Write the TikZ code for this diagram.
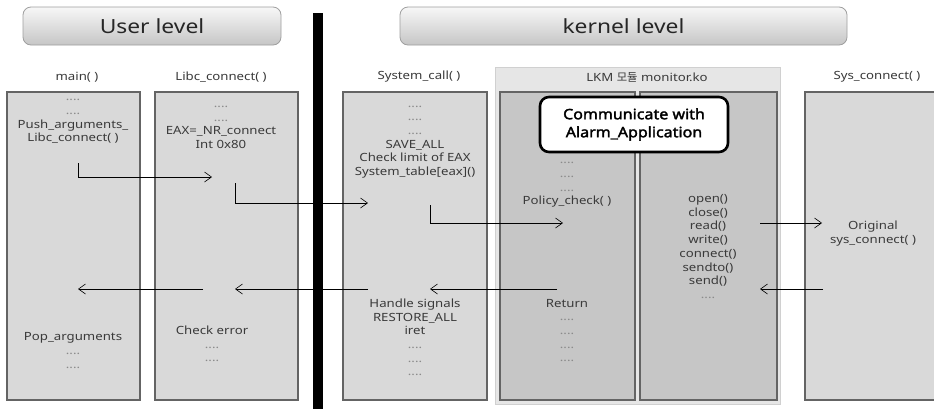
\documentclass[tikz,border=0pt]{standalone}
\usepackage{fontspec}
\setmainfont{Noto Sans}[FakeStretch=1.17]
\newfontfamily\alarmfont{Noto Sans}[FakeStretch=1.12, FakeBold=2.2]
\newfontfamily\kofont{Noto Sans CJK KR}
\usetikzlibrary{arrows.meta}

\definecolor{boxfill}{HTML}{D9D9D9}
\definecolor{boxline}{HTML}{646464}
\definecolor{lkmfill}{HTML}{C6C6C6}
\definecolor{lkmouter}{HTML}{E6E6E6}
\definecolor{lkmedge}{HTML}{D0D0D0}
\definecolor{txtgray}{HTML}{3A3A3A}
\definecolor{dotgray}{HTML}{8A8A8A}

\newcommand{\dotrow}{\textcolor{dotgray}{....}}

\begin{document}
\begin{tikzpicture}[x=1pt, y=-1pt,
    % Estilos
    levelbox/.style={rectangle, rounded corners=8pt, draw=gray!75, thick, top color=white!97!black, bottom color=gray!45, minimum width=258pt, minimum height=38pt, font=\fontsize{19.5}{22}\selectfont, text=black!85},
    procbox/.style={rectangle, draw=boxline, line width=2.6pt, fill=boxfill, minimum height=308pt},
    lkmbox/.style={rectangle, draw=boxline, line width=2.6pt, fill=lkmfill, minimum height=308pt},
    callout/.style={rectangle, rounded corners=9pt, draw=black, line width=2.6pt, fill=white, minimum width=188pt, minimum height=55pt, align=center, font=\alarmfont\fontsize{14.3}{18}\selectfont},
    texto/.style={font=\fontsize{11.3}{13.7}\selectfont, text=txtgray, align=center, inner sep=0pt},
    arrow/.style={-{Straight Barb[length=7pt, width=10pt]}, semithick, draw=black}
]

\clip (0,0) rectangle (934,408);
\fill[white] (0,0) rectangle (934,408);

% --- CABECERAS ---
\node[levelbox] (user) at (152,26) {User level};
\node[levelbox, minimum width=447pt] (kernel) at (623.5,26) {kernel level};

% separador usuario / kernel
\fill[black] (313,13) rectangle (323,410);

% --- NOMBRES DE FUNCIONES ---
\node[texto] (mainlbl) at (77,77) {main( )};
\node[texto] (libclbl) at (221,77) {Libc\_connect( )};
\node[texto] (syslbl) at (419,77) {System\_call( )};
\node[texto] (syscolbl) at (877,77) {Sys\_connect( )};

% --- CAJAS ---
\node[procbox, minimum width=133pt] (mainbox) at (73.5,246) {};
\node[procbox, minimum width=143pt] (libcbox) at (226.5,246) {};
\node[procbox, minimum width=144pt] (sysbox) at (415,246) {};

% modulo LKM
\node[rectangle, draw=lkmedge, fill=lkmouter, minimum width=285pt, minimum height=337pt] (lkm) at (637.5,235.5) {};
\node[texto] (lkmlbl) at (647,77) {LKM {\kofont 모듈} monitor.ko};
\node[lkmbox, minimum width=135pt] (lkmleft) at (567.5,246) {};
\node[lkmbox, minimum width=137pt] (lkmright) at (708.5,246) {};

\node[procbox, minimum width=134pt] (sysconbox) at (872,246) {};

\node[callout] (alarm) at (634,124.5) {Communicate with\\Alarm\_Application};

% --- TEXTOS DE IDA ---
\node[texto] (maintop) at (73,121.5) {\dotrow\\\dotrow\\Push\_arguments\_\\Libc\_connect( )};
\node[texto] (libctop) at (221,127.5) {\dotrow\\\dotrow\\EAX=\_NR\_connect\\Int 0x80};
\node[texto] (systop) at (415,142) {\dotrow\\\dotrow\\\dotrow\\SAVE\_ALL\\Check limit of EAX\\System\_table[eax]()};
\node[texto] (policy) at (567,185) {\dotrow\\\dotrow\\\dotrow\\Policy\_check( )};
\node[texto] (calls) at (708,246.5) {open()\\close()\\read()\\write()\\connect()\\sendto()\\send()\\\dotrow};
\node[texto] (orig) at (873,233.5) {Original\\sys\_connect( )};

% --- TEXTOS DE VUELTA ---
\node[texto] (sysbot) at (415,337.5) {Handle signals\\RESTORE\_ALL\\iret\\\dotrow\\\dotrow\\\dotrow};
\node[texto] (retbot) at (567,330.5) {Return\\\dotrow\\\dotrow\\\dotrow\\\dotrow};
\node[texto] (libcbot) at (212,344) {Check error\\\dotrow\\\dotrow};
\node[texto] (mainbot) at (73,350.5) {Pop\_arguments\\\dotrow\\\dotrow};

% --- FLECHAS ---
\coordinate (in1) at (78,163);   \coordinate (out1) at (212,177);
\coordinate (in2) at (235,183);  \coordinate (out2) at (368,203);
\coordinate (in3) at (430,205);  \coordinate (out3) at (563,223);
\coordinate (in4) at (760,223);  \coordinate (out4) at (822,223);

\draw[arrow] (in1) |- (out1);
\draw[arrow] (in2) |- (out2);
\draw[arrow] (in3) |- (out3);
\draw[arrow] (in4) -- (out4);

\coordinate (back1) at (823,289); \coordinate (ret1) at (760,289);
\coordinate (back2) at (557,289); \coordinate (ret2) at (430,289);
\coordinate (back3) at (368,289); \coordinate (ret3) at (235,289);
\coordinate (back4) at (203,289); \coordinate (ret4) at (78,289);

\draw[arrow] (back1) -- (ret1);
\draw[arrow] (back2) -- (ret2);
\draw[arrow] (back3) -- (ret3);
\draw[arrow] (back4) -- (ret4);

\end{tikzpicture}
\end{document}
